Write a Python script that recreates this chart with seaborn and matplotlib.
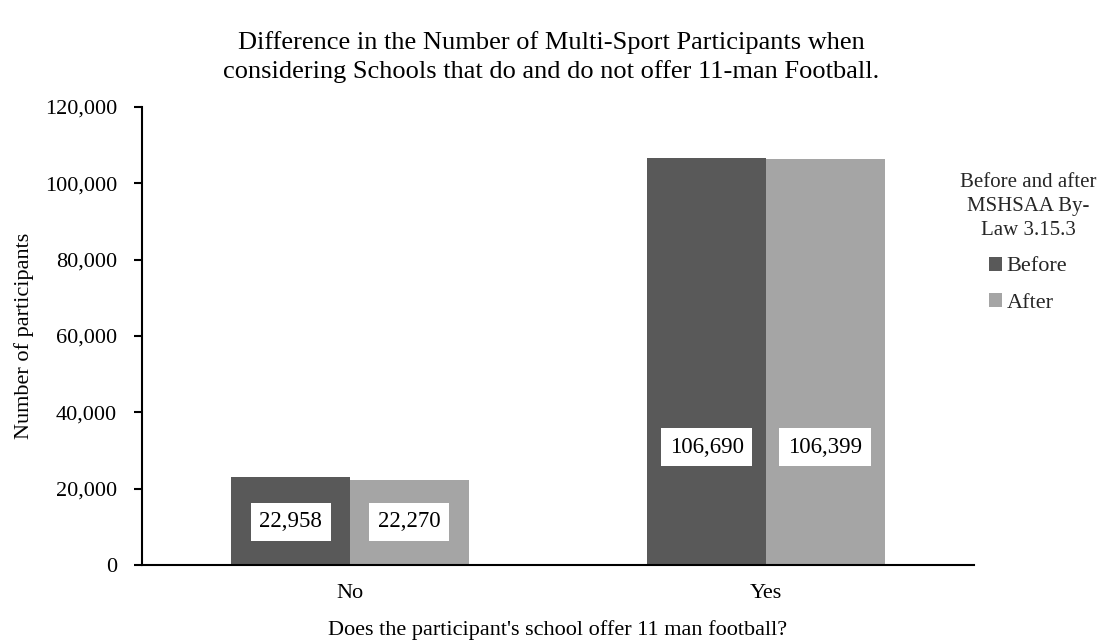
import matplotlib
matplotlib.use("Agg")
import matplotlib.pyplot as plt
import seaborn as sns
import pandas as pd

# Data
categories = ["No", "Yes"]
periods = ["Before", "After"]
before_values = [22958, 106690]
after_values = [22270, 106399]
label_heights = [11300, 30900]  # where the value boxes sit inside each group

df = pd.DataFrame({
    "offers": categories * 2,
    "period": [periods[0]] * 2 + [periods[1]] * 2,
    "participants": before_values + after_values,
})

sns.set_theme(style="white")
plt.rcParams["font.family"] = ["Liberation Serif", "DejaVu Serif"]

fig = plt.figure(figsize=(11.03, 6.44), dpi=100)
ax = fig.add_axes([0.1287, 0.1227, 0.7543, 0.7112])

palette = {"Before": "#595959", "After": "#A5A5A5"}
sns.barplot(data=df, x="offers", y="participants", hue="period",
            order=categories, hue_order=periods, palette=palette,
            width=0.57, saturation=1, ax=ax, linewidth=0, errorbar=None)

ax.set_ylim(0, 120000)
ax.set_yticks(range(0, 120001, 20000))
ax.set_yticklabels([f"{v:,}" for v in range(0, 120001, 20000)], fontsize=16)
ax.tick_params(axis="y", direction="out", length=6, width=1.5, color="black", pad=12, left=True)
ax.tick_params(axis="x", length=0, labelsize=16, pad=14)
for lbl in ax.get_xticklabels() + ax.get_yticklabels():
    lbl.set_color("black")

sns.despine(ax=ax)
for side in ("left", "bottom"):
    ax.spines[side].set_color("black")
    ax.spines[side].set_linewidth(1.5)

ax.set_xlabel("Does the participant's school offer 11 man football?", fontsize=16, color="black", labelpad=12)
ax.set_ylabel("Number of participants", fontsize=16, color="black", labelpad=8)

# value boxes inside the bars
for container, vals in zip(ax.containers, [before_values, after_values]):
    for bar, v, h in zip(container, vals, label_heights):
        ax.text(bar.get_x() + bar.get_width() / 2, h, f"{v:,}",
                ha="center", va="center", fontsize=16.5, color="black",
                bbox=dict(boxstyle="square,pad=0.38", fc="white", ec="none"))

fig.text(0.5, 0.912,
         "Difference in the Number of Multi-Sport Participants when\n"
         "considering Schools that do and do not offer 11-man Football.",
         ha="center", va="center", fontsize=19, color="black", linespacing=1.35)

handles, labels = ax.get_legend_handles_labels()
leg = ax.legend(handles, labels, title="Before and after\nMSHSAA By-\nLaw 3.15.3",
                loc="upper center", bbox_to_anchor=(1.065, 0.88), frameon=False,
                fontsize=16, title_fontsize=15, handlelength=0.6, handleheight=0.6,
                handletextpad=0.2, labelspacing=0.75, borderpad=0)
leg.get_title().set_multialignment("center")
leg.get_title().set_linespacing(1.35)

fig.savefig("out.png", dpi=100)
